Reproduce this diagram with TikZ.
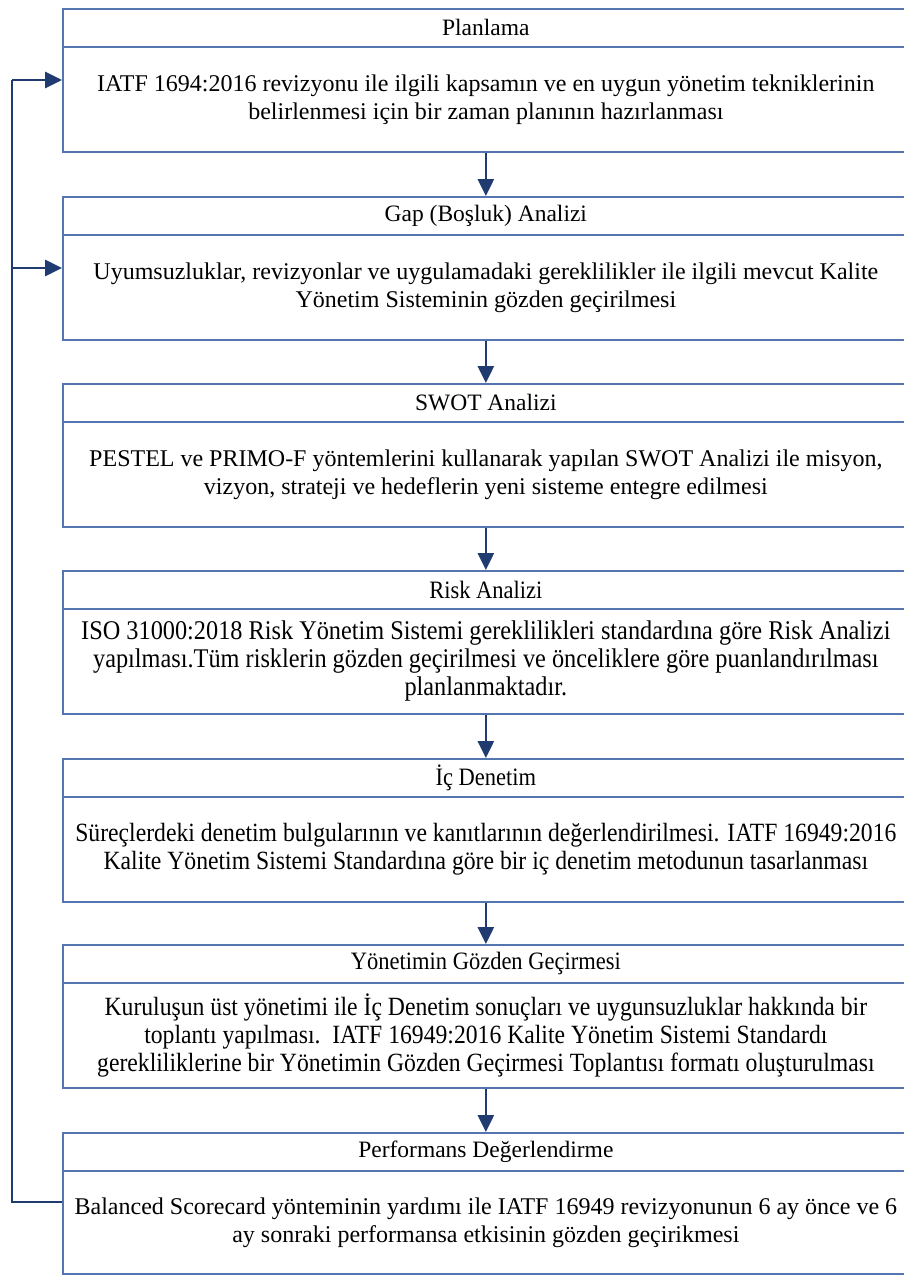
\documentclass[tikz,border=0pt]{standalone}
\usepackage{fontspec}
\setmainfont{Liberation Serif}
\newfontfamily\narrowfont[FakeStretch=0.9]{Liberation Serif}
\usetikzlibrary{arrows.meta,positioning,calc}
\definecolor{boxblue}{HTML}{5475B0}
\definecolor{navy}{HTML}{1F3B70}
\tikzset{
  hdr/.style={draw=boxblue, line width=1.7pt, rectangle, minimum width=846pt, minimum height=38pt, anchor=north west, inner sep=0pt, font=\fontsize{23.5}{28}\selectfont, text=black},
  bodybox/.style={draw=boxblue, line width=1.7pt, rectangle, minimum width=846pt, minimum height=105pt, anchor=north west, inner sep=0pt, align=center, font=\fontsize{24}{28}\selectfont, text=black},
  narrowhdr/.style={font=\narrowfont\fontsize{25}{28}\selectfont},
  narrowtxt/.style={font=\narrowfont\fontsize{26.3}{28}\selectfont},
  arr/.style={draw=navy, line width=2.7pt, -{Triangle[length=17pt,width=16pt]}},
  fb/.style={draw=navy, line width=2.7pt}
}
\begin{document}
\begin{tikzpicture}[x=1pt,y=-1pt]
\useasboundingbox (0,0) rectangle (904,1275);
\clip (0,0) rectangle (904,1275);
% box 1
\node[hdr] (h1) at (62,8) {Planlama};
\node[bodybox] (b1) at (62,46) {IATF 1694:2016 revizyonu ile ilgili kapsamın ve en uygun yönetim tekniklerinin\\belirlenmesi için bir zaman planının hazırlanması};
% box 2
\node[hdr] (h2) at (62,196) {Gap (Boşluk) Analizi};
\node[bodybox] (b2) at (62,234) {Uyumsuzluklar, revizyonlar ve uygulamadaki gereklilikler ile ilgili mevcut Kalite\\Yönetim Sisteminin gözden geçirilmesi};
% box 3
\node[hdr] (h3) at (62,383) {SWOT Analizi};
\node[bodybox] (b3) at (62,421) {PESTEL ve PRIMO-F yöntemlerini kullanarak yapılan SWOT Analizi ile misyon,\\vizyon, strateji ve hedeflerin yeni sisteme entegre edilmesi};
% box 4
\node[hdr, narrowhdr] (h4) at (62,570) {Risk Analizi};
\node[bodybox, narrowtxt, font=\narrowfont\fontsize{27}{28}\selectfont] (b4) at (62,608) {ISO 31000:2018 Risk Yönetim Sistemi gereklilikleri standardına göre Risk Analizi\\yapılması.Tüm risklerin gözden geçirilmesi ve önceliklere göre puanlandırılması\\planlanmaktadır.};
% box 5
\node[hdr, narrowhdr] (h5) at (62,758) {İç Denetim};
\node[bodybox, narrowtxt] (b5) at (62,796) {Süreçlerdeki denetim bulgularının ve kanıtlarının değerlendirilmesi. IATF 16949:2016\\Kalite Yönetim Sistemi Standardına göre bir iç denetim metodunun tasarlanması};
% box 6
\node[hdr, narrowhdr] (h6) at (62,944) {Yönetimin Gözden Geçirmesi};
\node[bodybox, narrowtxt] (b6) at (62,982) {Kuruluşun üst yönetimi ile İç Denetim sonuçları ve uygunsuzluklar hakkında bir\\toplantı yapılması.~~IATF 16949:2016 Kalite Yönetim Sistemi Standardı\\gerekliliklerine bir Yönetimin Gözden Geçirmesi Toplantısı formatı oluşturulması};
% box 7
\node[hdr] (h7) at (62,1132) {Performans Değerlendirme};
\node[bodybox, minimum height=103pt] (b7) at (62,1170) {Balanced Scorecard yönteminin yardımı ile IATF 16949 revizyonunun 6 ay önce ve 6\\ay sonraki performansa etkisinin gözden geçirikmesi};
% vertical arrows
\draw[arr] (b1.south) -- (h2.north);
\draw[arr] (b2.south) -- (h3.north);
\draw[arr] (b3.south) -- (h4.north);
\draw[arr] (b4.south) -- (h5.north);
\draw[arr] (b5.south) -- (h6.north);
\draw[arr] (b6.south) -- (h7.north);
% feedback loop
\coordinate (fb7) at (12,1202);
\coordinate (fb1) at (12,80);
\coordinate (fb2) at (12,268);
\draw[fb] (b7.west |- fb7) -- (fb7) -- (fb1);
\draw[arr] (fb1) -- (b1.west |- fb1);
\draw[arr] (fb2) -- (b2.west |- fb2);
\end{tikzpicture}
\end{document}
